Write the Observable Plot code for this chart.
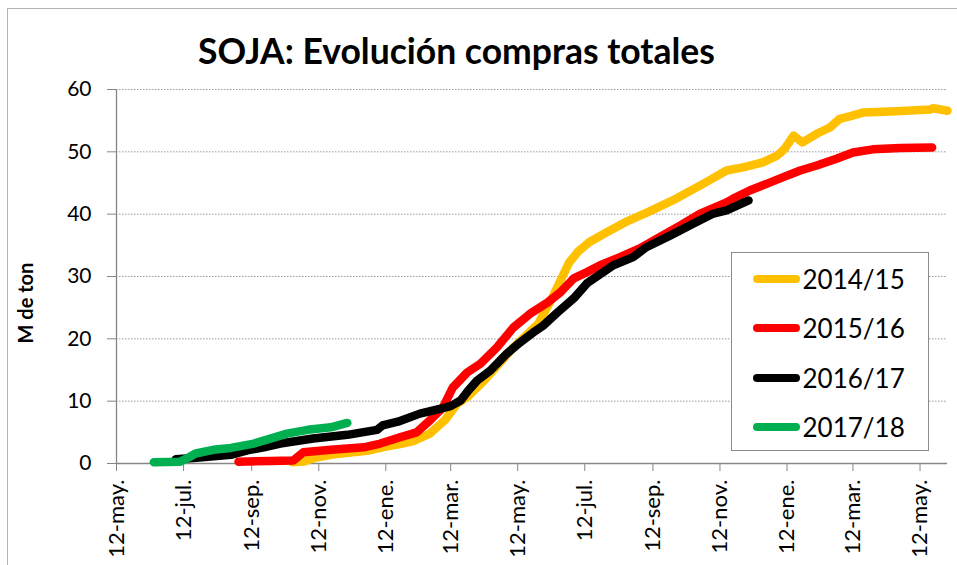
<!DOCTYPE html>
<html><head><meta charset="utf-8">
<script src="https://cdn.jsdelivr.net/npm/d3@7"></script>
<script src="https://cdn.jsdelivr.net/npm/@observablehq/plot@0.6"></script>
<style>
html,body{margin:0;padding:0;background:#fff;overflow:hidden}
#wrap{position:relative;width:957px;height:565px;font-family:Lato,sans-serif;overflow:hidden}
#frame{position:absolute;left:7px;top:8px;width:1200px;height:1200px;border:1.5px solid #b4b4b4;pointer-events:none}
#ylabel{position:absolute;left:25px;top:303px;transform:translate(-50%,-50%) rotate(-90deg);font-weight:bold;font-size:20px;line-height:20px;white-space:nowrap;color:#000}
#legend{position:absolute;left:731px;top:252px;width:196px;height:197px;border:1.5px solid #8c8c8c;background:#fff}
.entry{position:absolute;left:0;height:32px;width:190px}
.entry svg{position:absolute;left:20.5px;top:10px}
.entry span{position:absolute;left:70.5px;top:0;font-size:26px;line-height:32px;color:#000}
</style></head><body><div id="wrap"></div>
<script>
const seasons = ["2014/15","2015/16","2016/17","2017/18"];
const seasonColors = ["#FFC000","#FF0000","#000000","#00B050"];
const title = "SOJA: Evolución compras totales";
const yLabel = "M de ton";

// days since 12-may of each campaign, and million tonnes
const days1415 = [160,170,180,195,215,230,245,258,270,285,299,310,320,335,361,384,395,404,412,420,430,446,465,483,506,534,555,570,588,601,608,616,624,637,649,658,667,679,710,740,743,756];
const vals1415 = [0.2,0.3,0.9,1.4,1.8,2.1,2.7,3.1,3.6,4.8,7.0,9.6,10.8,13.4,18.6,22.5,26.1,29.4,32.3,34.0,35.5,37.1,38.9,40.3,42.2,44.9,47.0,47.5,48.3,49.4,50.5,52.6,51.5,52.9,53.9,55.3,55.7,56.3,56.5,56.8,57.0,56.6];

const days1516 = [111,140,161,170,195,225,240,258,273,285,297,306,319,331,346,361,376,392,404,416,428,440,458,476,492,513,531,555,561,576,592,606,622,637,655,670,688,713,742];
const vals1516 = [0.3,0.4,0.5,1.8,2.2,2.6,3.2,4.2,5.0,6.9,9.0,12.2,14.6,16.0,18.6,21.8,24.0,25.8,27.5,29.7,30.7,31.8,33.1,34.5,36.1,38.2,40.1,41.9,42.5,43.8,44.9,45.9,47.0,47.8,48.9,49.9,50.4,50.6,50.7];

const days1617 = [54,70,104,119,134,149,179,210,237,242,256,276,295,304,313,320,328,340,355,367,379,388,401,416,428,452,470,482,504,525,543,555,575];
const vals1617 = [0.7,0.9,1.4,2.1,2.6,3.2,4.0,4.6,5.4,6.1,6.7,8.0,8.8,9.2,10.1,11.7,13.3,14.9,17.6,19.4,21.0,22.1,24.2,26.5,28.9,31.8,33.1,34.7,36.6,38.5,40.1,40.6,42.2];

const days1718 = [34,58,66,72,88,104,125,140,155,174,195,210];
const vals1718 = [0.2,0.3,1.0,1.6,2.2,2.5,3.2,4.0,4.8,5.4,5.8,6.5];

const tickDays = [0,61,123,184,245,304,365,426,488,549,610,670,731];
const tickLabels = ["12-may.","12-jul.","12-sep.","12-nov.","12-ene.","12-mar.","12-may.","12-jul.","12-sep.","12-nov.","12-ene.","12-mar.","12-may."];
const yTicks = [0,10,20,30,40,50,60];

const seriesDays = [days1415, days1516, days1617, days1718];
const seriesVals = [vals1415, vals1516, vals1617, vals1718];
const rows = [];
seriesDays.forEach((ds, i) => ds.forEach((d, j) => rows.push({season: seasons[i], day: d, value: seriesVals[i][j]})));

const chart = Plot.plot({
  width: 957, height: 565,
  marginLeft: 116, marginRight: 10, marginTop: 89, marginBottom: 102,
  style: {fontFamily: "Lato, sans-serif", background: "transparent", overflow: "visible"},
  x: {domain: [0, 756], axis: null},
  y: {domain: [0, 60], axis: null},
  color: {domain: seasons, range: seasonColors},
  marks: [
    Plot.gridY(yTicks.slice(1), {stroke: "#9a9a9a", strokeOpacity: 1, strokeDasharray: "1.5,1.5"}),
    Plot.axisY(yTicks, {tickSize: 9, tickPadding: 16, fontSize: 21, stroke: "#868686", fill: "#000", label: null}),
    Plot.axisX(tickDays, {tickSize: 8, tickFormat: () => "", stroke: "#868686", label: null}),
    Plot.ruleX([0], {stroke: "#868686", strokeWidth: 1.3}),
    Plot.ruleY([0], {stroke: "#868686", strokeWidth: 1.3}),
    Plot.text(tickDays, {x: d => d, text: (d, i) => tickLabels[i], frameAnchor: "bottom", rotate: -90, textAnchor: "end", lineAnchor: "middle", dy: 16, fontSize: 22, fill: "#000"}),
    Plot.line(rows, {x: "day", y: "value", z: "season", stroke: "season", strokeWidth: 8.5, strokeLinecap: "round", strokeLinejoin: "round"}),
    Plot.text([title], {frameAnchor: "top-left", dx: 340, dy: -37, fontSize: 35.5, fontWeight: "bold", textAnchor: "middle", lineAnchor: "middle", fill: "#000"})
  ]
});
const wrap = document.getElementById("wrap");
wrap.appendChild(chart);
const yl = document.createElement("div"); yl.id = "ylabel"; yl.textContent = yLabel; wrap.appendChild(yl);
const frame = document.createElement("div"); frame.id = "frame"; wrap.appendChild(frame);
const legend = document.createElement("div"); legend.id = "legend";
const rowTops = [26, 75.3, 124.6, 174];
seasons.forEach((s, i) => {
  const e = document.createElement("div"); e.className = "entry"; e.style.top = (rowTops[i] - 16) + "px";
  e.innerHTML = `<svg width="47" height="12"><line x1="4" y1="6" x2="43" y2="6" stroke="${seasonColors[i]}" stroke-width="8" stroke-linecap="round"/></svg><span>${s}</span>`;
  legend.appendChild(e);
});
wrap.appendChild(legend);
</script></body></html>
